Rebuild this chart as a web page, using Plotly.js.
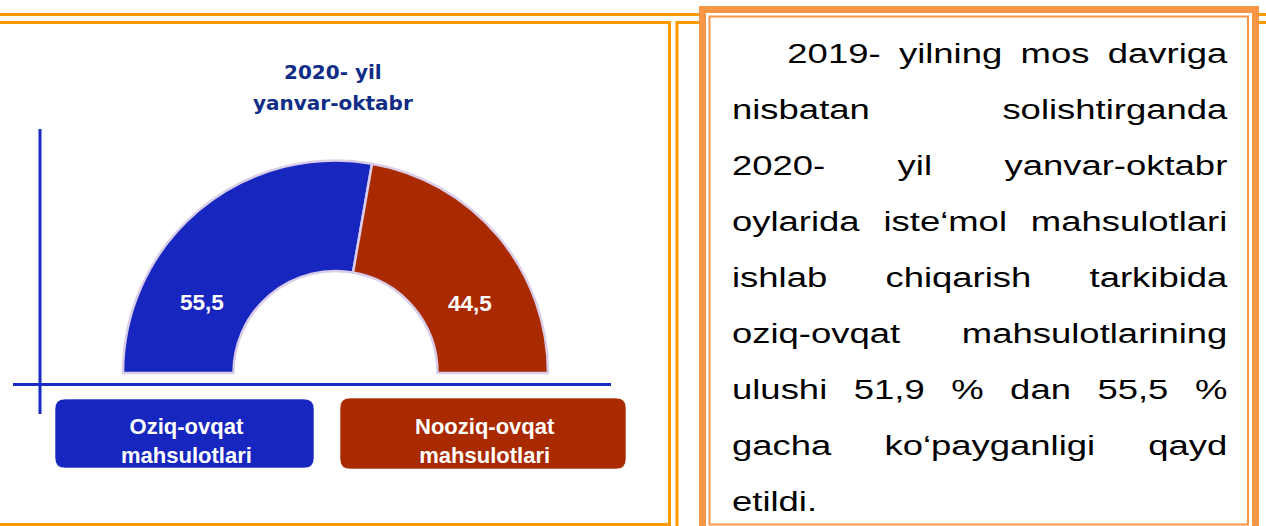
<!DOCTYPE html>
<html>
<head>
<meta charset="utf-8">
<script src="https://cdn.plot.ly/plotly-3.0.1.min.js"></script>
<style>
  html, body { margin:0; padding:0; overflow:hidden; background:#fff; }
  #wrap { position:relative; width:1266px; height:526px; overflow:hidden; background:#fff; }
  #plot { position:absolute; left:0; top:0; width:1266px; height:760px; }
  #note { position:absolute; left:731.7px; top:25.6px; width:366.9px; transform:scaleX(1.35); transform-origin:0 0;
          font-family:'Liberation Sans', Arial, sans-serif; font-size:27px; line-height:56px; color:#000; }
  #note div { text-align:justify; text-align-last:justify; }
  #note div.first { padding-left:41px; }
  #note div.last { text-align-last:left; }
</style>
</head>
<body>
<div id="wrap">
  <div id="plot"></div>
  <div id="note"></div>
</div>
<script>
// ---- data ----
const categories = ['Oziq-ovqat<br>mahsulotlari', 'Nooziq-ovqat<br>mahsulotlari'];
const shares = [55.5, 44.5];
const titleLines = ['2020- yil', 'yanvar-oktabr'];
const noteLines = [
  '2019- yilning mos davriga',
  'nisbatan solishtirganda',
  '2020- yil yanvar-oktabr',
  'oylarida iste\u2018mol mahsulotlari',
  'ishlab chiqarish tarkibida',
  'oziq-ovqat mahsulotlarining',
  'ulushi 51,9 % dan 55,5 %',
  'gacha ko\u2018payganligi qayd',
  'etildi.'
];

// ---- styles ----
const W = 1266, H = 760;
const px = x => x / W;
const py = y => 1 - y / H;
const sliceColors = ['#1626BE', '#AA2A00'];
const axisBlue = '#1B2CC2';
const frameOrange = '#FF9900';
const boxOrange = '#F79646';

// half-donut: real slices + an invisible half
const total = shares.reduce((a, b) => a + b, 0);
const pieValues = shares.concat([total]);
const pieColors = sliceColors.concat(['rgba(0,0,0,0)']);
const lineColors = shares.map(() => '#D9CDE9').concat(['rgba(0,0,0,0)']);

const trace = {
  type: 'pie',
  values: pieValues,
  labels: ['a', 'b', 'c'],
  sort: false,
  direction: 'clockwise',
  rotation: -90,
  hole: 0.48,
  textinfo: 'none',
  hoverinfo: 'skip',
  showlegend: false,
  marker: { colors: pieColors, line: { color: lineColors, width: 2.5 } },
  domain: { x: [px(123), px(548)], y: [py(585.5), py(160.5)] }
};

function roundRect(x0, y0, x1, y1, r) {
  const P = (x, y) => px(x) + ',' + py(y);
  return 'M' + P(x0 + r, y0) + ' L' + P(x1 - r, y0) + ' Q' + P(x1, y0) + ' ' + P(x1, y0 + r) +
    ' L' + P(x1, y1 - r) + ' Q' + P(x1, y1) + ' ' + P(x1 - r, y1) +
    ' L' + P(x0 + r, y1) + ' Q' + P(x0, y1) + ' ' + P(x0, y1 - r) +
    ' L' + P(x0, y0 + r) + ' Q' + P(x0, y0) + ' ' + P(x0 + r, y0) + ' Z';
}
function hline(x0, x1, y, color, w) {
  return { type: 'line', xref: 'paper', yref: 'paper', x0: px(x0), x1: px(x1), y0: py(y), y1: py(y), line: { color: color, width: w } };
}
function vline(x, y0, y1, color, w) {
  return { type: 'line', xref: 'paper', yref: 'paper', x0: px(x), x1: px(x), y0: py(y0), y1: py(y1), line: { color: color, width: w } };
}

const legendBoxes = [[55, 399, 314, 468], [340, 398, 626, 469]];

const shapes = [
  // page frame lines
  hline(0, 1266, 14.5, frameOrange, 3),
  hline(0, 669.5, 22.5, frameOrange, 3),
  hline(677, 1266, 22.5, frameOrange, 3),
  vline(669.5, 21, 524.5, frameOrange, 3),
  vline(677, 21, 530, frameOrange, 3),
  hline(0, 671, 524.5, frameOrange, 3),
  // right text frame
  { type: 'rect', xref: 'paper', yref: 'paper', x0: px(702.5), x1: px(1255.5), y0: py(9.5), y1: py(600),
    line: { color: boxOrange, width: 7 }, fillcolor: '#ffffff' },
  { type: 'rect', xref: 'paper', yref: 'paper', x0: px(709.5), x1: px(1248), y0: py(16.5), y1: py(524.5),
    line: { color: boxOrange, width: 2 }, fillcolor: 'rgba(0,0,0,0)' },
  // axis-like cross lines
  vline(40, 129, 414, axisBlue, 3),
  hline(13, 611, 384.5, axisBlue, 3)
];
legendBoxes.forEach((b, i) => {
  shapes.push({ type: 'path', xref: 'paper', yref: 'paper', path: roundRect(b[0], b[1], b[2], b[3], 10),
    fillcolor: sliceColors[i], line: { color: 'rgba(255,255,255,0.6)', width: 1 } });
});

const annotations = [];
// title lines
const titleY = [72, 102.5];
titleLines.forEach((t, i) => {
  annotations.push({ text: '<b>' + t + '</b>', xref: 'paper', yref: 'paper', x: px(333), y: py(titleY[i]),
    xanchor: 'center', yanchor: 'middle', showarrow: false,
    font: { family: 'DejaVu Sans', size: 20, color: '#0F2D86' } });
});
// value labels
const labelPos = [[202.5, 302], [470, 303]];
shares.forEach((v, i) => {
  annotations.push({ text: '<b>' + v.toFixed(1).replace('.', ',') + '</b>', xref: 'paper', yref: 'paper',
    x: px(labelPos[i][0]), y: py(labelPos[i][1]), xanchor: 'center', yanchor: 'middle', showarrow: false,
    font: { family: 'Liberation Sans, Arial', size: 22.5, color: '#ffffff' } });
});
// legend text
categories.forEach((c, i) => {
  const b = legendBoxes[i];
  annotations.push({ text: '<b>' + c + '</b>', xref: 'paper', yref: 'paper',
    x: px((b[0] + b[2]) / 2 + 2), y: py(441.5), xanchor: 'center', yanchor: 'middle', showarrow: false,
    font: { family: 'Liberation Sans, Arial', size: 22, color: '#ffffff' } });
});

const layout = {
  width: W, height: H,
  margin: { l: 0, r: 0, t: 0, b: 0 },
  paper_bgcolor: '#ffffff',
  plot_bgcolor: '#ffffff',
  showlegend: false,
  shapes: shapes,
  annotations: annotations
};

Plotly.newPlot('plot', [trace], layout, { staticPlot: true, displayModeBar: false });

// side note text
const note = document.getElementById('note');
noteLines.forEach((t, i) => {
  const d = document.createElement('div');
  d.textContent = t;
  if (i === 0) d.className = 'first';
  if (i === noteLines.length - 1) d.className = 'last';
  note.appendChild(d);
});
</script>
</body>
</html>
